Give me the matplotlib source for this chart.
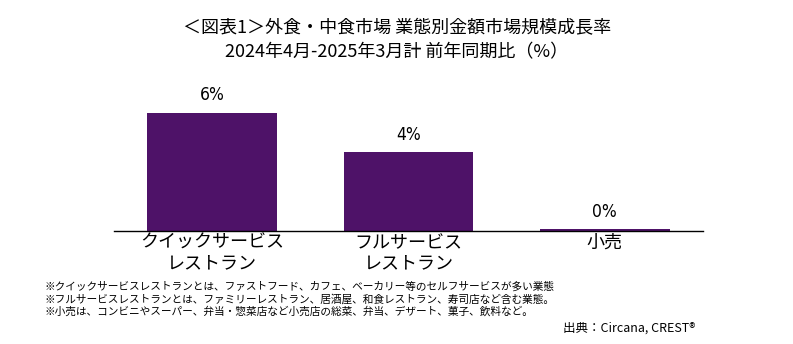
import matplotlib
matplotlib.use("Agg")
import matplotlib.pyplot as plt

plt.rcParams['font.family'] = ['Noto Sans CJK JP', 'DejaVu Sans']

# data
categories = ['クイックサービス\nレストラン', 'フルサービス\nレストラン', '小売']
growth = [6.0, 4.0, 0.1]
value_labels = ['6%', '4%', '0%']

title = '＜図表1＞外食・中食市場 業態別金額市場規模成長率\n2024年4月-2025年3月計 前年同期比（%）'
notes = [
    '※クイックサービスレストランとは、ファストフード、カフェ、ベーカリー等のセルフサービスが多い業態',
    '※フルサービスレストランとは、ファミリーレストラン、居酒屋、和食レストラン、寿司店など含む業態。',
    '※小売は、コンビニやスーパー、弁当・惣菜店など小売店の総菜、弁当、デザート、菓子、飲料など。',
]
source = '出典：Circana, CREST®'

W, H = 793, 344
fig = plt.figure(figsize=(W / 100, H / 100), dpi=100)

# axes placed in pixel terms: x from 114 to 703, baseline at y=231
ax_left, ax_right = 114, 703
ax_bottom, ax_top = 231, 93
ax = fig.add_axes([ax_left / W, 1 - ax_bottom / H,
                   (ax_right - ax_left) / W, (ax_bottom - ax_top) / H])

bar_color = '#4E1268'
x = range(len(categories))
bars = ax.bar(x, growth, width=0.66, color=bar_color)

for b, lab in zip(bars, value_labels):
    ax.annotate(lab, (b.get_x() + b.get_width() / 2, b.get_height()),
                xytext=(0, 6), textcoords='offset points',
                ha='center', va='bottom', fontsize=12.5,
                family='DejaVu Sans', stretch='condensed')

ax.set_xlim(-0.5, 2.5)
ax.set_ylim(0, 7)
ax.set_xticks(list(x))
ax.set_xticklabels(categories, fontsize=13, linespacing=1.15)
ax.tick_params(axis='x', length=0, pad=2)
ax.set_yticks([])
for s in ['top', 'right', 'left']:
    ax.spines[s].set_visible(False)
ax.spines['bottom'].set_linewidth(1.0)
ax.spines['bottom'].set_color('black')

fig.text(397 / W, 1 - 40 / H, title, ha='center', va='center',
         fontsize=13, linespacing=1.4)

for i, line in enumerate(notes):
    fig.text(45 / W, 1 - (287 + 12 * i) / H, line, ha='left', va='center',
             fontsize=7.7)

fig.text(695 / W, 1 - 328 / H, source, ha='right', va='center', fontsize=9)

fig.savefig('out.png', dpi=100)
